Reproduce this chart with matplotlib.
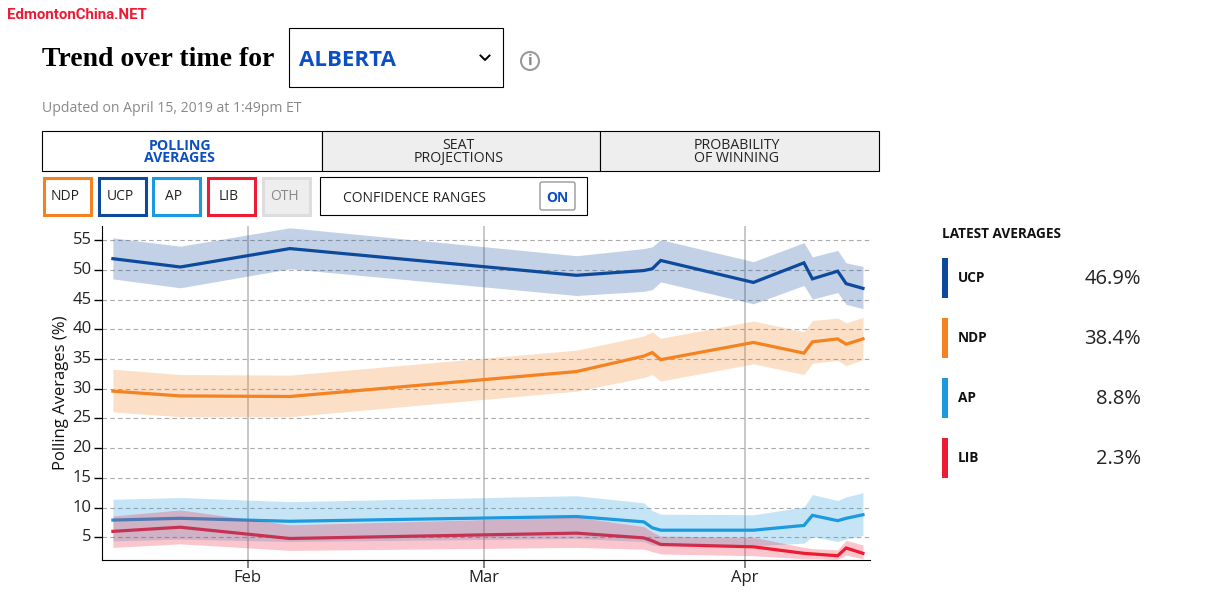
import matplotlib
matplotlib.use("Agg")
import matplotlib.pyplot as plt
from matplotlib.patches import Rectangle, Circle, FancyBboxPatch
from matplotlib.transforms import ScaledTranslation
import pandas as pd

plt.rcParams['font.family'] = ['Open Sans', 'DejaVu Sans']

# Data
dates = pd.to_datetime(["2019-01-16", "2019-01-24", "2019-02-06", "2019-03-12", "2019-03-20",
                        "2019-03-21", "2019-03-22", "2019-04-02", "2019-04-08", "2019-04-09",
                        "2019-04-12", "2019-04-13", "2019-04-15"])

ucp = [51.9, 50.5, 53.6, 49.1, 49.9, 50.2, 51.6, 47.9, 51.2, 48.5, 49.8, 47.7, 46.9]
ucp_hi = [55.4, 54.0, 57.1, 52.4, 53.6, 53.9, 55.1, 51.4, 54.6, 52.2, 53.3, 51.2, 50.6]
ucp_lo = [48.5, 47.0, 50.2, 45.7, 46.4, 46.7, 48.0, 44.3, 47.4, 45.1, 46.2, 44.2, 43.5]

ndp = [29.6, 28.8, 28.7, 32.9, 35.5, 36.1, 34.9, 37.8, 36.0, 37.9, 38.4, 37.5, 38.4]
ndp_hi = [33.3, 32.4, 32.3, 36.5, 38.9, 39.6, 38.5, 41.4, 39.6, 41.5, 41.9, 41.1, 42.0]
ndp_lo = [26.1, 25.3, 25.3, 29.6, 31.9, 32.4, 31.3, 34.2, 32.4, 34.3, 34.8, 33.9, 34.9]

ap = [7.9, 8.2, 7.7, 8.5, 7.6, 6.6, 6.2, 6.2, 7.0, 8.7, 7.8, 8.2, 8.8]
ap_hi = [11.4, 11.7, 11.0, 12.0, 10.8, 9.5, 8.9, 8.8, 10.1, 12.2, 11.2, 11.8, 12.5]
ap_lo = [4.4, 4.7, 4.3, 4.8, 4.3, 3.7, 3.6, 3.6, 4.0, 5.1, 4.3, 4.7, 5.3]

lib = [6.0, 6.7, 4.8, 5.7, 4.9, 4.4, 3.8, 3.4, 2.3, 2.2, 1.9, 3.2, 2.3]
lib_hi = [8.6, 9.6, 7.1, 8.4, 6.8, 5.9, 5.2, 5.0, 3.3, 3.1, 2.9, 4.5, 3.7]
lib_lo = [3.3, 3.9, 2.8, 3.3, 3.0, 2.6, 2.2, 1.9, 1.4, 1.4, 1.3, 2.0, 1.4]

y_ticks = [5, 10, 15, 20, 25, 30, 35, 40, 45, 50, 55]
month_ticks = pd.to_datetime(["2019-02-01", "2019-03-01", "2019-04-01"])
month_labels = ["Feb", "Mar", "Apr"]

latest_names = ["UCP", "NDP", "AP", "LIB"]
latest_values = ["46.9%", "38.4%", "8.8%", "2.3%"]

BLUE = "#0d4a9c"
ORANGE = "#f58220"
SKY = "#1b9ae0"
RED = "#ed1b34"
LINK = "#0b4fc4"
INK = "#222222"

W, H = 1205, 610
fig = plt.figure(figsize=(W / 100, H / 100), dpi=100)

# Overlay in pixel coordinates for the page furniture
ui = fig.add_axes([0, 0, 1, 1])
ui.set_xlim(0, W)
ui.set_ylim(H, 0)
ui.axis("off")

ui.text(7, 15, "EdmontonChina.NET", color=RED, fontsize=10.8, fontweight="bold",
        family=["Roboto"], stretch="condensed", va="center")
ui.text(42, 59, "Trend over time for", color="black", fontsize=20, fontweight="bold",
        family=["Liberation Serif"], va="center")

ui.add_patch(Rectangle((289, 28), 213.5, 59, fc="white", ec="black", lw=0.8))
ui.text(299, 60, "ALBERTA", color=LINK, fontsize=16, fontweight="bold", va="center")
ui.plot([480.5, 485, 489.5], [55.5, 60, 55.5], color="black", lw=1.4)

ui.add_patch(Circle((530, 61), 9, fc="white", ec="#999999", lw=1.5))
ui.text(530, 61, "i", color="#888888", fontsize=11, fontweight="bold", ha="center", va="center")

ui.text(42, 108, "Updated on April 15, 2019 at 1:49pm ET", color="#888888", fontsize=10.1, va="center")

# Tabs
tabs = [(42, 279.5, "POLLING\nAVERAGES", True), (321.5, 278, "SEAT\nPROJECTIONS", False),
        (599.5, 279, "PROBABILITY\nOF WINNING", False)]
for x0, w, label, active in tabs:
    ui.add_patch(Rectangle((x0, 131), w, 39.5, fc="white" if active else "#eeeeee", ec="black", lw=0.8))
    ui.text(x0 + w / 2 - 2, 152, label, color=LINK if active else INK, fontsize=10.2,
            fontweight="bold" if active else "normal", ha="center", va="center", linespacing=0.85)

# Party buttons
buttons = [(43.5, "NDP", ORANGE, INK), (98.5, "UCP", BLUE, INK), (152.5, "AP", SKY, INK),
           (207.5, "LIB", RED, INK), (262.5, "OTH", "#dddddd", "#888888")]
for x0, label, edge, text_color in buttons:
    ui.add_patch(Rectangle((x0, 177.5), 47, 37, fc="#eeeeee" if label == "OTH" else "white", ec=edge, lw=2.2))
    ui.text(x0 + 21.5, 196, label, color=text_color, fontsize=10, ha="center", va="center")

ui.add_patch(Rectangle((320, 177), 266.5, 38, fc="white", ec="black", lw=0.8))
ui.text(343, 198, "CONFIDENCE RANGES", color=INK, fontsize=10, va="center")
ui.add_patch(FancyBboxPatch((540, 182), 35, 28, boxstyle="round,pad=0,rounding_size=2",
                            fc="white", ec="#999999", lw=1))
ui.text(557.5, 198, "ON", color=LINK, fontsize=10, fontweight="bold", ha="center", va="center")

# Latest averages panel
ui.text(942, 234, "LATEST AVERAGES", color="#111111", fontsize=9.8, fontweight="bold", va="center")
for i, (name, value, color) in enumerate(zip(latest_names, latest_values, [BLUE, ORANGE, SKY, RED])):
    top = 258 + i * 60
    ui.add_patch(Rectangle((942, top), 6, 40, fc=color, ec="none"))
    ui.text(958, top + 20, name, color="#111111", fontsize=9.8, fontweight="bold", va="center")
    ui.text(1141, top + 21, value, color=INK, fontsize=14.5, ha="right", va="center")

# Chart
x0, x1, y0, y1 = 102, 870, 226, 560
ax = fig.add_axes([x0 / W, 1 - y1 / H, (x1 - x0) / W, (y1 - y0) / H])
ax.patch.set_alpha(0)

# The bands sit on top of all the lines, as in the original
series = [(ucp, ucp_hi, ucp_lo, BLUE), (ndp, ndp_hi, ndp_lo, ORANGE),
          (ap, ap_hi, ap_lo, SKY), (lib, lib_hi, lib_lo, RED)]
for values, hi, lo, color in series:
    ax.plot(dates, values, color=color, lw=2.3, zorder=2, solid_joinstyle="miter")
for values, hi, lo, color in series:
    ax.fill_between(dates, lo, hi, color=color, alpha=0.25, lw=0, zorder=3)

ax.set_xlim(pd.Timestamp("2019-01-14 17:00"), pd.Timestamp("2019-04-15 20:00"))
ax.set_ylim(1.18, 57.4)

ax.set_yticks(y_ticks)
ax.set_xticks(month_ticks)
ax.set_xticklabels(month_labels)
ax.grid(axis="y", color="#aaaaaa", lw=0.8, ls=(0, (4, 3)), zorder=1)
ax.grid(axis="x", color="#c4c4c4", lw=1.3, zorder=1)
ax.set_axisbelow(True)

ax.tick_params(axis="y", length=6, width=1, labelsize=12, labelcolor=INK, pad=1.5)
ax.tick_params(axis="x", length=6, width=1.3, color="#777777", labelsize=12, labelcolor=INK, pad=1)
for label in ax.get_yticklabels():
    label.set_transform(label.get_transform() + ScaledTranslation(0, 2 / 100, fig.dpi_scale_trans))
ax.spines["top"].set_visible(False)
ax.spines["right"].set_visible(False)
ax.set_ylabel("Polling Averages (%)", fontsize=12, color="#111111")
ax.yaxis.set_label_coords(-0.043, 0.5)

fig.savefig("out.png", dpi=100)
